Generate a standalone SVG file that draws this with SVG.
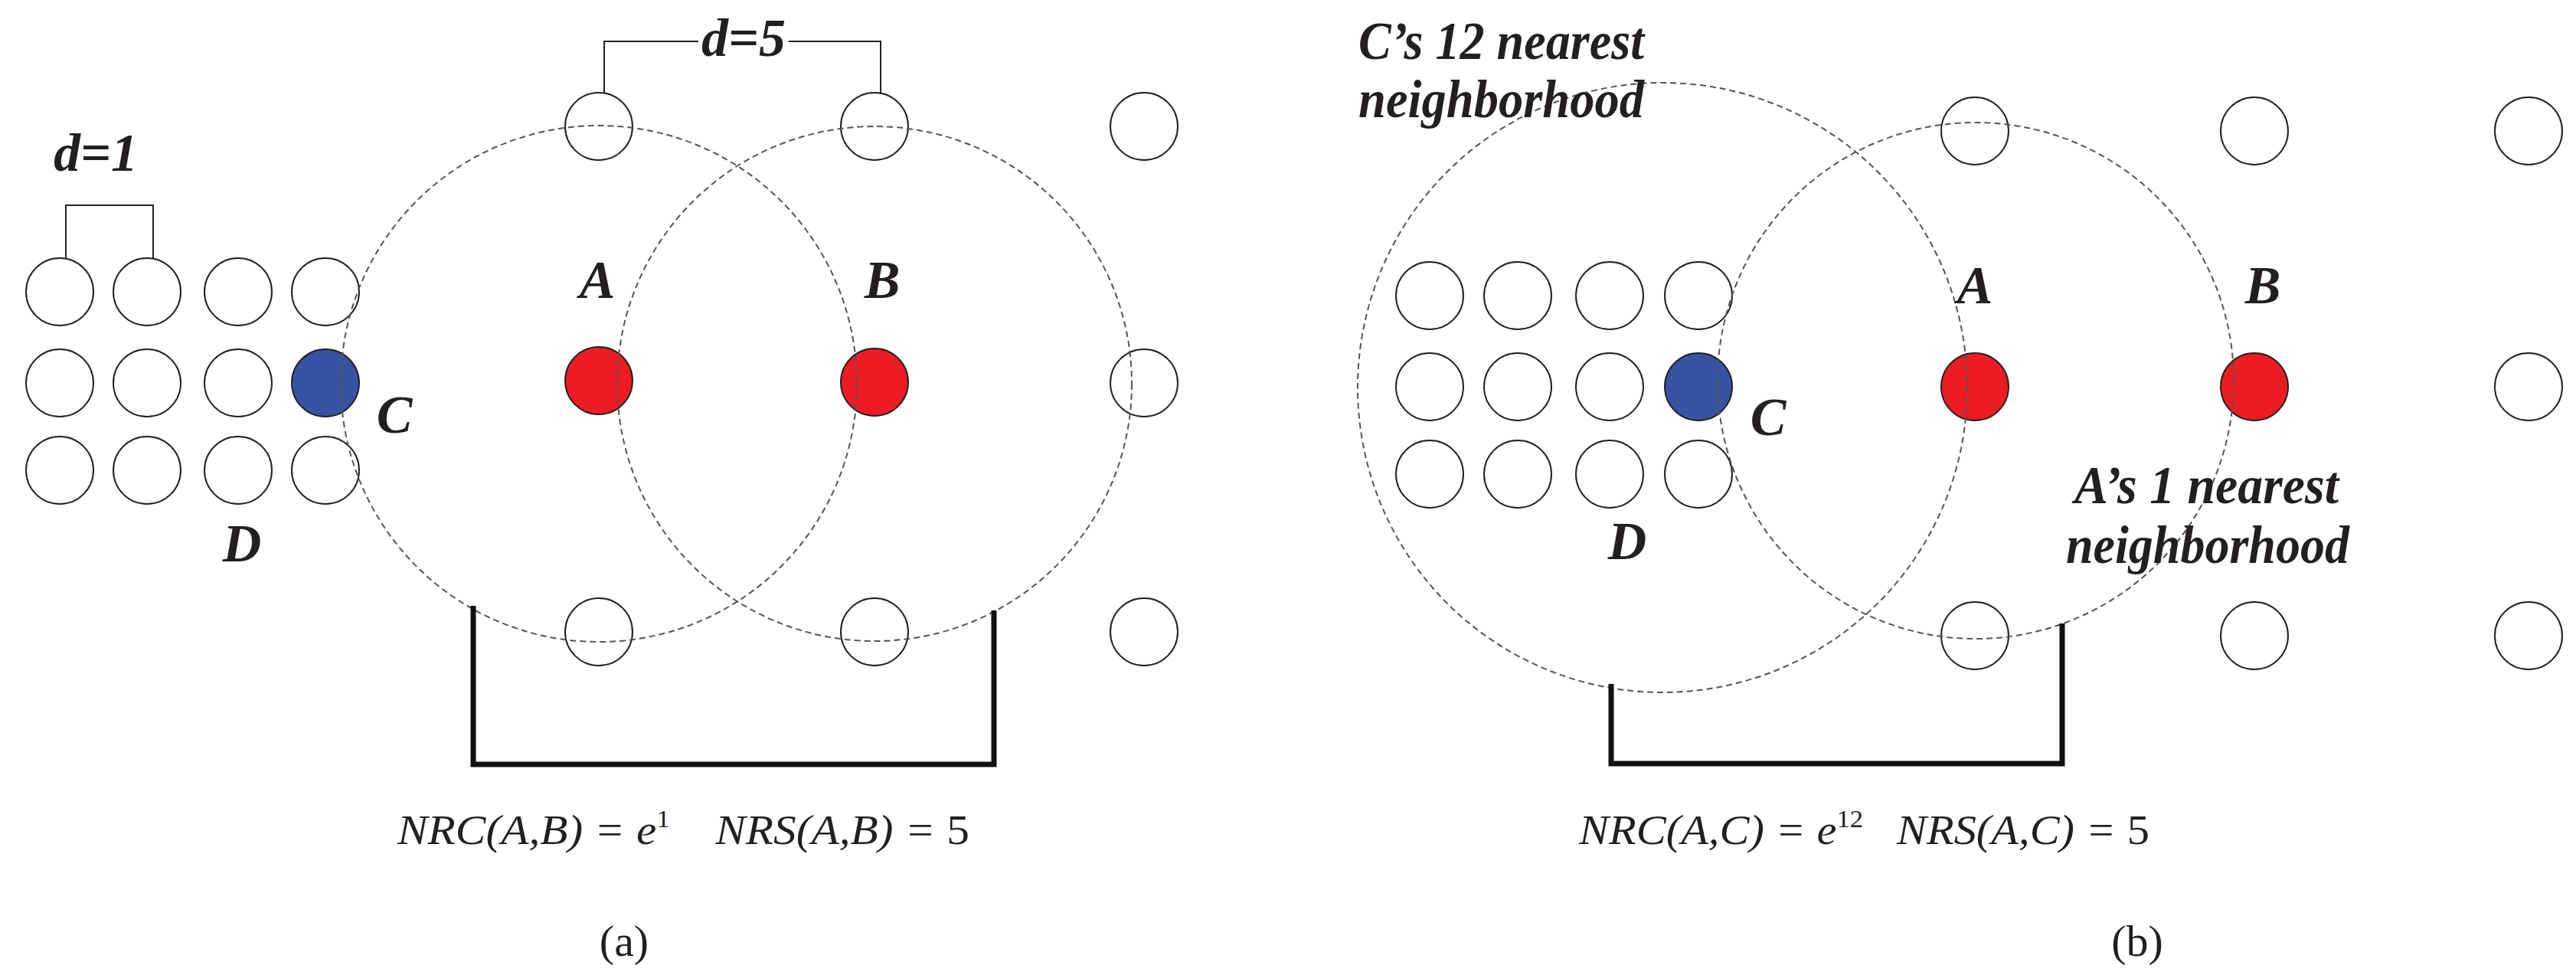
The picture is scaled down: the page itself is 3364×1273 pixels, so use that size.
<svg xmlns="http://www.w3.org/2000/svg" width="3364" height="1273" viewBox="0 0 3364 1273">
<style>
.n{fill:#fff;stroke:#222;stroke-width:2}
.r{fill:#ed1c24;stroke:#222;stroke-width:2}
.b{fill:#3953a4;stroke:#222;stroke-width:2}
.d{fill:none;stroke:#555;stroke-width:2;stroke-dasharray:8 5}
.t{fill:none;stroke:#222;stroke-width:2}
.k{fill:none;stroke:#111;stroke-width:7}
.l{font-family:"Liberation Serif",serif;font-weight:bold;font-style:italic;font-size:70px;fill:#231f20;text-anchor:middle}
.s{text-anchor:start}
.f{font-family:"Liberation Serif",serif;font-style:italic;font-size:54px;fill:#231f20}
.c{font-family:"Liberation Serif",serif;font-size:58px;fill:#231f20;text-anchor:middle}
</style>
<rect width="3364" height="1273" fill="#fff"/>
<g id="panel-a">
<g id="grid-a">
<circle class="n" cx="78" cy="381" r="44"/><circle class="n" cx="192" cy="381" r="44"/><circle class="n" cx="311" cy="381" r="44"/><circle class="n" cx="425" cy="381" r="44"/>
<circle class="n" cx="78" cy="500" r="44"/><circle class="n" cx="192" cy="500" r="44"/><circle class="n" cx="311" cy="500" r="44"/>
<circle class="n" cx="78" cy="614" r="44"/><circle class="n" cx="192" cy="614" r="44"/><circle class="n" cx="311" cy="614" r="44"/><circle class="n" cx="425" cy="614" r="44"/>
</g>
<g id="C-a"><circle class="b" cx="425" cy="500" r="44"/></g>
<g id="others-a">
<circle class="n" cx="782" cy="165" r="44"/><circle class="n" cx="1142" cy="165" r="44"/><circle class="n" cx="1494" cy="165" r="44"/>
<circle class="n" cx="1494" cy="500" r="44"/>
<circle class="n" cx="782" cy="825" r="44"/><circle class="n" cx="1142" cy="825" r="44"/><circle class="n" cx="1494" cy="825" r="44"/>
</g>
<g id="A-a"><circle class="r" cx="782" cy="497" r="44"/></g>
<g id="B-a"><circle class="r" cx="1142" cy="499" r="44"/></g>
<g id="hoods-a">
<circle class="d" cx="782" cy="501" r="337"/>
<circle class="d" cx="1142" cy="501" r="336"/>
</g>
<g id="connectors-a">
<path class="t" d="M86 337V268H200V337"/>
<path class="t" d="M789 121V54H912M1030 54H1150V123"/>
<path class="k" d="M618 791V998H1298V797"/>
</g>
<g id="labels-a">
<text class="l" x="125" y="223">d=1</text>
<text class="l" x="971" y="73">d=5</text>
<text class="l" x="780" y="389">A</text>
<text class="l" x="1152" y="389">B</text>
<text class="l" x="515" y="565">C</text>
<text class="l" x="316" y="733">D</text>
<text class="f" x="519" y="1102" xml:space="preserve" textLength="747" lengthAdjust="spacingAndGlyphs">NRC(A,B) = e<tspan font-size="32" dy="-22" font-style="normal">1</tspan><tspan dy="22">    NRS(A,B) = </tspan><tspan font-style="normal">5</tspan></text>
<text class="c" x="815" y="1248">(a)</text>
</g>
</g>
<g id="panel-b">
<g id="grid-b">
<circle class="n" cx="1867" cy="386" r="44"/><circle class="n" cx="1982" cy="386" r="44"/><circle class="n" cx="2102" cy="386" r="44"/><circle class="n" cx="2218" cy="386" r="44"/>
<circle class="n" cx="1867" cy="505" r="44"/><circle class="n" cx="1982" cy="505" r="44"/><circle class="n" cx="2102" cy="505" r="44"/>
<circle class="n" cx="1867" cy="619" r="44"/><circle class="n" cx="1982" cy="619" r="44"/><circle class="n" cx="2102" cy="619" r="44"/><circle class="n" cx="2218" cy="619" r="44"/>
</g>
<g id="C-b"><circle class="b" cx="2218" cy="505" r="44"/></g>
<g id="others-b">
<circle class="n" cx="2579" cy="171" r="44"/><circle class="n" cx="2944" cy="171" r="44"/><circle class="n" cx="3302" cy="171" r="44"/>
<circle class="n" cx="3302" cy="505" r="44"/>
<circle class="n" cx="2579" cy="830" r="44"/><circle class="n" cx="2944" cy="830" r="44"/><circle class="n" cx="3302" cy="830" r="44"/>
</g>
<g id="A-b"><circle class="r" cx="2579" cy="505" r="44"/></g>
<g id="B-b"><circle class="r" cx="2944" cy="505" r="44"/></g>
<g id="hoods-b">
<circle class="d" cx="2171" cy="506" r="398"/>
<circle class="d" cx="2580" cy="497" r="337"/>
</g>
<g id="connectors-b">
<path class="k" d="M2104 893V997H2693V814"/>
</g>
<g id="labels-b">
<text class="l s" x="1774" y="77" textLength="373" lengthAdjust="spacingAndGlyphs">C’s 12 nearest</text>
<text class="l s" x="1774" y="153" textLength="373" lengthAdjust="spacingAndGlyphs">neighborhood</text>
<text class="l s" x="2709" y="657" textLength="345" lengthAdjust="spacingAndGlyphs">A’s 1 nearest</text>
<text class="l s" x="2698" y="735" textLength="370" lengthAdjust="spacingAndGlyphs">neighborhood</text>
<text class="l" x="2579" y="396">A</text>
<text class="l" x="2955" y="396">B</text>
<text class="l" x="2309" y="568">C</text>
<text class="l" x="2125" y="730">D</text>
<text class="f" x="2062" y="1102" xml:space="preserve" textLength="745" lengthAdjust="spacingAndGlyphs">NRC(A,C) = e<tspan font-size="32" dy="-22" font-style="normal">12</tspan><tspan dy="22">   NRS(A,C) = </tspan><tspan font-style="normal">5</tspan></text>
<text class="c" x="2791" y="1248">(b)</text>
</g>
</g>
</svg>
